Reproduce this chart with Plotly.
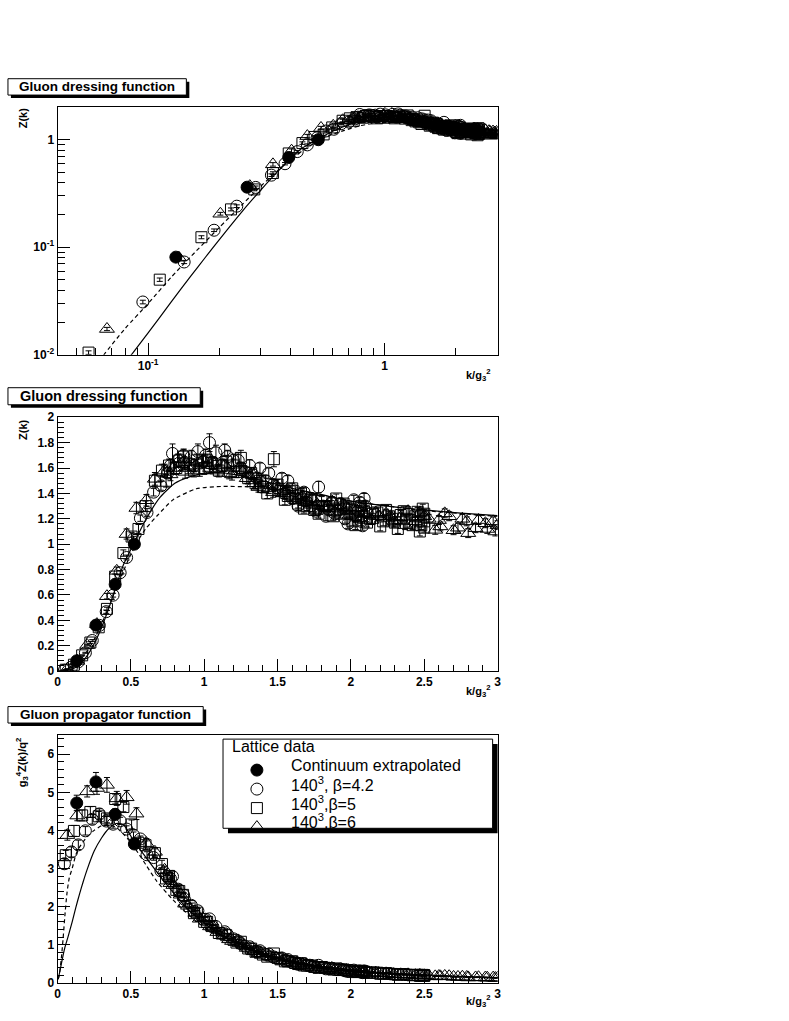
import numpy as np
import plotly.graph_objects as go

W, H = 789, 1021
FONT = "Liberation Sans"

# ---------------------------------------------------------------------
# Lattice data, k/g3^2 and the dressing function Z(k)
# ---------------------------------------------------------------------
k_cont = [0.131, 0.262, 0.393, 0.524]
z_cont = [0.081, 0.362, 0.683, 1.00]
e_cont = [0.0035, 0.017, 0.022, 0.025]

# 140^3, beta=4.2
k_b42 = [0.047, 0.095, 0.142, 0.190, 0.237, 0.285, 0.332, 0.379, 0.427, 0.471,
         0.518, 0.565, 0.610, 0.655, 0.705, 0.750, 0.784, 0.822, 0.865, 0.912,
         0.957, 0.995, 1.036, 1.080, 1.120, 1.160, 1.200, 1.232, 1.280, 1.330,
         1.380, 1.420, 1.470, 1.530, 1.570, 1.620, 1.660, 1.700, 1.740, 1.780,
         1.810, 1.850, 1.890, 1.930, 1.960, 2.000, 2.030, 2.060, 2.080, 2.090,
         2.110,
         0.770, 0.860, 0.930, 1.010, 1.060, 1.140, 1.250, 1.310, 1.360, 1.440,
         1.500, 1.550, 1.600, 1.640, 1.680, 1.720, 1.760, 1.830, 1.870, 1.910,
         1.950, 1.980, 2.020, 2.050, 2.070, 2.100]
z_b42 = [0.0069, 0.031, 0.073, 0.144, 0.241, 0.360, 0.468, 0.598, 0.775, 0.895,
         1.04, 1.205, 1.25, 1.41, 1.46, 1.56, 1.715, 1.66, 1.64, 1.69,
         1.73, 1.65, 1.80, 1.72, 1.62, 1.69, 1.66, 1.66, 1.57, 1.55,
         1.60, 1.50, 1.47, 1.52, 1.50, 1.42, 1.36, 1.33, 1.29, 1.45,
         1.30, 1.27, 1.24, 1.32, 1.20, 1.28, 1.22, 1.33, 1.145, 1.36,
         1.25,
         1.62, 1.70, 1.62, 1.70, 1.64, 1.74, 1.60, 1.62, 1.52, 1.56,
         1.44, 1.40, 1.36, 1.30, 1.41, 1.36, 1.26, 1.22, 1.33, 1.27,
         1.30, 1.16, 1.35, 1.26, 1.18, 1.30]
e_b42 = [0.0003, 0.0012, 0.0025, 0.004, 0.007, 0.011, 0.013, 0.015, 0.017, 0.019,
         0.022, 0.025, 0.03, 0.03, 0.035, 0.04, 0.075, 0.05, 0.05, 0.05,
         0.06, 0.05, 0.07, 0.06, 0.05, 0.05, 0.05, 0.06, 0.04, 0.04,
         0.04, 0.04, 0.04, 0.04, 0.04, 0.04, 0.035, 0.035, 0.035, 0.045,
         0.035, 0.035, 0.035, 0.04, 0.035, 0.035, 0.035, 0.04, 0.035, 0.04,
         0.035,
         0.05, 0.05, 0.05, 0.05, 0.05, 0.05, 0.045, 0.045, 0.04, 0.04,
         0.04, 0.04, 0.04, 0.035, 0.035, 0.035, 0.035, 0.035, 0.035, 0.035,
         0.035, 0.035, 0.035, 0.035, 0.035, 0.035]

# 140^3, beta=5
k_b5 = [0.056, 0.112, 0.168, 0.224, 0.281, 0.337, 0.393, 0.449, 0.505, 0.552,
        0.600, 0.664, 0.712, 0.760, 0.810, 0.856, 0.900, 0.950, 1.000, 1.050,
        1.100, 1.150, 1.200, 1.250, 1.300, 1.350, 1.400, 1.475, 1.520, 1.570,
        1.620, 1.660, 1.700, 1.750, 1.800, 1.850, 1.900, 1.930, 1.970, 2.010,
        2.050, 2.090, 2.130, 2.180, 2.220, 2.260, 2.300, 2.340, 2.380, 2.420,
        2.455, 2.470, 2.490, 2.500, 2.500,
        0.740, 0.830, 0.930, 1.020, 1.120, 1.220, 1.320, 1.380, 1.430, 1.500,
        1.550, 1.600, 1.640, 1.680, 1.730, 1.780, 1.820, 1.880, 1.950, 1.990,
        2.030, 2.070, 2.110, 2.150, 2.200, 2.240, 2.280, 2.320, 2.360, 2.400,
        2.440, 2.480, 2.500]
z_b5 = [0.0105, 0.050, 0.124, 0.225, 0.345, 0.490, 0.745, 0.930, 1.06, 1.12,
        1.30, 1.50, 1.58, 1.62, 1.60, 1.69, 1.63, 1.66, 1.60, 1.64,
        1.58, 1.65, 1.62, 1.68, 1.52, 1.48, 1.45, 1.67, 1.42, 1.38,
        1.36, 1.40, 1.30, 1.27, 1.34, 1.30, 1.36, 1.24, 1.28, 1.18,
        1.22, 1.26, 1.20, 1.25, 1.18, 1.22, 1.17, 1.23, 1.20, 1.15,
        1.255, 1.10, 1.28, 1.18, 1.13,
        1.50, 1.66, 1.58, 1.66, 1.62, 1.57, 1.56, 1.50, 1.40, 1.47,
        1.35, 1.44, 1.32, 1.28, 1.35, 1.24, 1.30, 1.22, 1.32, 1.25,
        1.15, 1.30, 1.17, 1.24, 1.14, 1.27, 1.20, 1.12, 1.26, 1.17,
        1.22, 1.15, 1.24]
e_b5 = [0.0004, 0.0018, 0.004, 0.007, 0.01, 0.013, 0.02, 0.025, 0.03, 0.035,
        0.04, 0.05, 0.05, 0.05, 0.05, 0.05, 0.05, 0.05, 0.05, 0.05,
        0.05, 0.05, 0.05, 0.06, 0.045, 0.045, 0.045, 0.06, 0.04, 0.04,
        0.04, 0.04, 0.035, 0.035, 0.035, 0.035, 0.035, 0.035, 0.035, 0.035,
        0.035, 0.035, 0.035, 0.035, 0.035, 0.035, 0.035, 0.035, 0.035, 0.035,
        0.035, 0.035, 0.035, 0.035, 0.035,
        0.05, 0.05, 0.05, 0.05, 0.05, 0.045, 0.045, 0.045, 0.04, 0.04,
        0.04, 0.04, 0.035, 0.035, 0.035, 0.035, 0.035, 0.035, 0.035, 0.035,
        0.035, 0.035, 0.035, 0.035, 0.035, 0.035, 0.035, 0.035, 0.035, 0.035,
        0.035, 0.035, 0.035]

# 140^3, beta=6
k_b6 = [0.067, 0.135, 0.202, 0.269, 0.337, 0.404, 0.471, 0.538, 0.606, 0.664,
        0.730, 0.790, 0.840, 0.890, 0.940, 0.990, 1.040, 1.090, 1.140, 1.190,
        1.240, 1.290, 1.340, 1.390, 1.440, 1.490, 1.540, 1.590, 1.640, 1.690,
        1.740, 1.790, 1.840, 1.890, 1.940, 1.990, 2.040, 2.090, 2.140, 2.190,
        2.240, 2.290, 2.340, 2.390, 2.440, 2.500, 2.575, 2.600, 2.640, 2.700,
        2.760, 2.800, 2.850, 2.917, 2.970, 2.985, 3.000,
        0.770, 0.870, 0.970, 1.060, 1.170, 1.270, 1.370, 1.470, 1.570, 1.670,
        1.770, 1.870, 1.970, 2.070, 2.170, 2.270, 2.370, 2.470, 2.530, 2.610,
        2.670, 2.730, 2.790, 2.870, 2.930]
z_b6 = [0.0174, 0.080, 0.205, 0.370, 0.590, 0.790, 1.080, 1.285, 1.346, 1.515,
        1.58, 1.60, 1.63, 1.60, 1.62, 1.66, 1.60, 1.58, 1.62, 1.55,
        1.60, 1.52, 1.48, 1.50, 1.44, 1.46, 1.40, 1.38, 1.36, 1.33,
        1.36, 1.27, 1.30, 1.25, 1.28, 1.23, 1.27, 1.24, 1.19, 1.22,
        1.24, 1.17, 1.21, 1.26, 1.18, 1.22, 1.113, 1.19, 1.243, 1.11,
        1.20, 1.087, 1.126, 1.165, 1.18, 1.10, 1.15,
        1.55, 1.57, 1.58, 1.64, 1.56, 1.58, 1.45, 1.41, 1.43, 1.38,
        1.31, 1.34, 1.29, 1.20, 1.25, 1.22, 1.15, 1.25, 1.20, 1.14,
        1.22, 1.13, 1.18, 1.19, 1.12]
e_b6 = [0.0006, 0.0025, 0.006, 0.012, 0.022, 0.03, 0.04, 0.045, 0.045, 0.05,
        0.05, 0.05, 0.05, 0.045, 0.045, 0.05, 0.045, 0.045, 0.045, 0.045,
        0.045, 0.04, 0.04, 0.04, 0.04, 0.04, 0.04, 0.04, 0.035, 0.035,
        0.035, 0.035, 0.035, 0.035, 0.035, 0.035, 0.035, 0.035, 0.035, 0.035,
        0.035, 0.035, 0.035, 0.035, 0.035, 0.035, 0.035, 0.035, 0.035, 0.035,
        0.035, 0.035, 0.035, 0.035, 0.035, 0.035, 0.035,
        0.05, 0.05, 0.045, 0.045, 0.045, 0.04, 0.04, 0.04, 0.035, 0.035,
        0.035, 0.035, 0.035, 0.035, 0.035, 0.035, 0.035, 0.035, 0.035, 0.035,
        0.035, 0.035, 0.035, 0.035, 0.035]

# DSE curves (solid and dashed), Z(k)
k_solid = [0.005, 0.01, 0.02, 0.035, 0.05, 0.075, 0.1, 0.125, 0.15, 0.175,
           0.2, 0.25, 0.3, 0.35, 0.4, 0.45, 0.52, 0.6, 0.7, 0.8,
           0.9, 1.0, 1.1, 1.2, 1.4, 1.6, 1.8, 2.0, 2.25, 2.5,
           2.75, 3.0]
z_solid = [2.25e-6, 1.9e-5, 1.52e-4, 8.09e-4, 0.0023, 0.00703, 0.016, 0.0309, 0.0524, 0.0812,
           0.118, 0.216, 0.342, 0.496, 0.669, 0.840, 1.005, 1.19, 1.37, 1.48,
           1.53, 1.56, 1.565, 1.55, 1.50, 1.44, 1.39, 1.34, 1.30, 1.27,
           1.245, 1.225]

k_dash = [0.005, 0.012, 0.025, 0.04, 0.05, 0.065, 0.08, 0.1, 0.125, 0.147,
          0.2, 0.25, 0.3, 0.35, 0.4, 0.45, 0.5, 0.55, 0.6, 0.676,
          0.788, 0.946, 1.126, 1.3, 1.5, 1.7, 2.0, 2.5, 3.0]
z_dash = [2.5e-6, 2.88e-5, 3.75e-4, 0.002, 0.004375, 0.0100, 0.0176, 0.030, 0.0525, 0.0765,
          0.153, 0.250, 0.371, 0.508, 0.653, 0.79, 0.92, 1.03, 1.12, 1.22,
          1.35, 1.437, 1.455, 1.452, 1.44, 1.41, 1.34, 1.265, 1.22]

# axis ticks
lin_x_ticks = [0, 0.5, 1, 1.5, 2, 2.5, 3]
log_x_ticks = [0.1, 1]
log_x_text = ["10<sup>-1</sup>", "1"]
log_x_minor = [0.05, 0.06, 0.07, 0.08, 0.09, 0.2, 0.3, 0.4, 0.5, 0.6, 0.7, 0.8, 0.9, 2, 3]
log_y_ticks = [0.01, 0.1, 1]
log_y_text = ["10<sup>-2</sup>", "10<sup>-1</sup>", "1"]
log_y_minor = [0.02, 0.03, 0.04, 0.05, 0.06, 0.07, 0.08, 0.09,
               0.2, 0.3, 0.4, 0.5, 0.6, 0.7, 0.8, 0.9, 2]

SERIES = [
    # key, k, z, err, symbol, size, legend text
    ("b42", k_b42, z_b42, e_b42, "circle-open", 12, "140<sup>3</sup>, \u03b2=4.2"),
    ("b5", k_b5, z_b5, e_b5, "square-open", 11, "140<sup>3</sup>,\u03b2=5"),
    ("b6", k_b6, z_b6, e_b6, "triangle-up-open", 13, "140<sup>3</sup>,\u03b2=6"),
    ("cont", k_cont, z_cont, e_cont, "circle", 12, "Continuum extrapolated"),
]
LEGEND_RANK = {"cont": 1, "b42": 2, "b5": 3, "b6": 4}

for key, k, z, e, *_ in SERIES:
    if not (len(k) == len(z) == len(e)):
        raise ValueError(f"length mismatch in series {key}")


def px_x(px):
    return px / W


def px_y(py):
    return 1 - py / H


def propagator(k, z):
    """g3^4 D(k) = Z(k)/k^2"""
    k = np.asarray(k, dtype=float)
    return np.asarray(z, dtype=float) / k**2


fig = go.Figure()

for panel in (1, 2, 3):
    xa = "x" if panel == 1 else f"x{panel}"
    ya = "y" if panel == 1 else f"y{panel}"
    for key, k, z, e, sym, size, _ in SERIES:
        if panel == 3:
            yv = propagator(k, z)
            ev = propagator(k, e)
        else:
            yv = np.asarray(z, dtype=float)
            ev = np.asarray(e, dtype=float)
        fig.add_trace(
            go.Scatter(
                x=k, y=yv, mode="markers", xaxis=xa, yaxis=ya,
                name=" ", legendgroup=key, showlegend=(panel == 3),
                legendrank=LEGEND_RANK[key],
                marker=dict(symbol=sym, size=size, color="black",
                            line=dict(width=1, color="black")),
                error_y=dict(type="data", array=ev, color="black",
                             thickness=1, width=3),
            )
        )
    for kc, zc, dash in ((k_solid, z_solid, "solid"), (k_dash, z_dash, "4px,3px")):
        yv = propagator(kc, zc) if panel == 3 else zc
        fig.add_trace(
            go.Scatter(
                x=kc, y=yv, mode="lines", xaxis=xa, yaxis=ya, showlegend=False,
                line=dict(color="black", width=1.2, dash=dash, shape="spline",
                          smoothing=0.6),
            )
        )

tickfont = dict(family=FONT, size=12, color="black", weight="bold")


def axis_style(**kw):
    base = dict(showline=True, linecolor="black", linewidth=1, mirror=True,
                ticks="inside", ticklen=12, tickwidth=1, tickcolor="black",
                showgrid=False, zeroline=False, tickfont=tickfont)
    base.update(kw)
    return base


def lin_minor(dtick):
    return dict(ticks="inside", ticklen=6, dtick=dtick, tickcolor="black",
                tickwidth=1, showgrid=False)


def log_minor(vals):
    return dict(ticks="inside", ticklen=7, tickmode="array", tickvals=vals,
                tickcolor="black", tickwidth=1, showgrid=False)


xdom = [px_x(55), px_x(499)]
fig.update_layout(
    width=W, height=H,
    margin=dict(l=0, r=0, t=0, b=0),
    paper_bgcolor="white", plot_bgcolor="white",
    xaxis=axis_style(domain=xdom, anchor="y", type="log",
                     range=[-1.383, np.log10(3)], tickmode="array",
                     tickvals=log_x_ticks, ticktext=log_x_text,
                     minor=log_minor(log_x_minor)),
    yaxis=axis_style(domain=[px_y(352.7), px_y(101.7)], anchor="x", type="log",
                     range=[-2, np.log10(2)], tickmode="array",
                     tickvals=log_y_ticks, ticktext=log_y_text,
                     minor=log_minor(log_y_minor)),
    xaxis2=axis_style(domain=xdom, anchor="y2", range=[0, 3], tickmode="array",
                      tickvals=lin_x_ticks, minor=lin_minor(0.1)),
    yaxis2=axis_style(domain=[px_y(673.3), px_y(416)], anchor="x2", range=[0, 2],
                      dtick=0.2, tick0=0, minor=lin_minor(0.04)),
    xaxis3=axis_style(domain=xdom, anchor="y3", range=[0, 3], tickmode="array",
                      tickvals=lin_x_ticks, minor=lin_minor(0.1)),
    yaxis3=axis_style(domain=[px_y(989.3), px_y(738.3)], anchor="x3", range=[0, 6.5],
                      dtick=1, tick0=0, minor=lin_minor(0.2)),
    legend=dict(x=px_x(236), y=px_y(759), xanchor="left", yanchor="top",
                bgcolor="rgba(0,0,0,0)", borderwidth=0, tracegroupgap=0,
                font=dict(family=FONT, size=12), itemsizing="trace"),
    showlegend=True,
)

shapes = []
annotations = []


def pave(x0, y0, x1, y1, shadow):
    """ROOT style box with a black drop shadow (pixel coordinates)."""
    shapes.append(dict(type="rect", xref="paper", yref="paper", layer="above",
                       x0=px_x(x0 + shadow), x1=px_x(x1 + shadow),
                       y0=px_y(y1 + shadow), y1=px_y(y0 + shadow),
                       fillcolor="black", line=dict(width=0)))
    shapes.append(dict(type="rect", xref="paper", yref="paper", layer="above",
                       x0=px_x(x0), x1=px_x(x1), y0=px_y(y1), y1=px_y(y0),
                       fillcolor="white", line=dict(color="black", width=1)))


def text(x, y, s, size, bold=True, xanchor="center", angle=0):
    annotations.append(dict(x=px_x(x), y=px_y(y), xref="paper", yref="paper",
                            text=s, showarrow=False, xanchor=xanchor,
                            yanchor="middle", textangle=angle,
                            font=dict(family=FONT, size=size, color="black",
                                      weight="bold" if bold else "normal")))


# panel titles
for (x0, y0, x1, y1, title, fs) in (
    (5, 72.7, 185, 89.3, "Gluon dressing function", 13.5),
    (5, 386, 199, 403.3, "Gluon dressing function", 14.5),
    (5, 709.3, 202, 726, "Gluon propagator function", 13.5),
):
    pave(x0, y0, x1, y1, 3)
    text((x0 + x1) / 2, (y0 + y1) / 2, title, fs)

# axis titles
kg = "k/g<sub>3</sub><sup>2</sup>"
text(493, 373, kg, 11, xanchor="right")
text(493, 694, kg, 11, xanchor="right")
text(493, 1008, kg, 11, xanchor="right")
text(21, 112, "Z(k)", 11, angle=-90)
text(20, 428, "Z(k)", 11, angle=-90)
text(20, 766, "g<sub>3</sub><sup>4</sup>Z(k)/q<sup>2</sup>", 11, angle=-90)

# legend frame and its texts
pave(222, 742.3, 494, 832.7, 5)
text(229, 750, "Lattice data", 16, bold=False, xanchor="left")
for y, (_, _, _, _, _, _, label) in zip((769, 788, 806.7, 825),
                                         sorted(SERIES, key=lambda s: LEGEND_RANK[s[0]])):
    text(289, y, label, 16, bold=False, xanchor="left")

fig.update_layout(shapes=shapes, annotations=annotations)

fig.write_html(
    "out.html",
    config={"displayModeBar": False},
    post_script="document.body.style.margin='0';document.body.style.overflow='hidden';",
)
